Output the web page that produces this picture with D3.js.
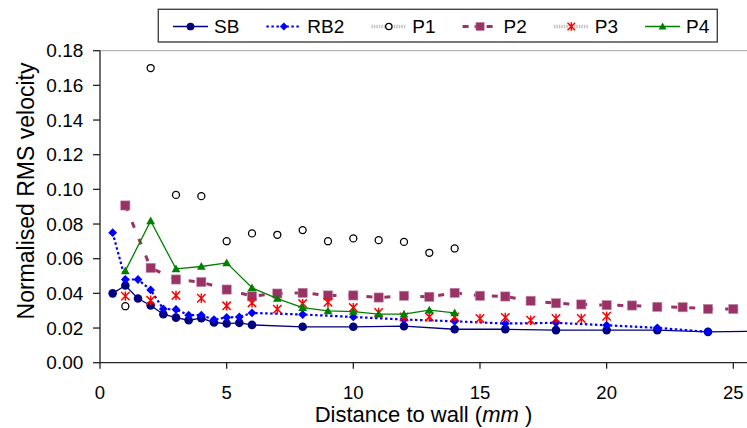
<!DOCTYPE html>
<html>
<head>
<meta charset="utf-8">
<script src="https://cdn.jsdelivr.net/npm/d3@7"></script>
<style>
  html, body { margin: 0; padding: 0; background: #fff; }
  svg { display: block; font-family: "Liberation Sans", Arial, sans-serif; }
</style>
</head>
<body>
<svg id="chart" width="747" height="428"></svg>
<script>
// Distance to wall (mm) and normalised RMS velocity for each configuration
const sbX  = [0.5, 1, 1.5, 2, 2.5, 3, 3.5, 4, 4.5, 5, 5.5, 6, 8, 10, 12, 14, 16, 18, 20, 22, 24, 26];
const sbY  = [0.040, 0.0445, 0.037, 0.033, 0.028, 0.026, 0.0245, 0.0257, 0.0232, 0.0226, 0.023, 0.0218,
              0.0207, 0.0207, 0.0211, 0.0193, 0.0193, 0.0188, 0.0188, 0.0188, 0.0178, 0.0182];

const rb2X = [0.5, 1, 1.5, 2, 2.5, 3, 3.5, 4, 4.5, 5, 5.5, 6, 8, 10, 12, 14, 16, 18, 20, 22, 24];
const rb2Y = [0.075, 0.048, 0.048, 0.042, 0.031, 0.0307, 0.0274, 0.0274, 0.0249, 0.0261, 0.0264, 0.0287,
              0.0278, 0.0264, 0.0249, 0.0239, 0.0226, 0.023, 0.0216, 0.0201, 0.0178];

const p1X  = [1, 2, 3, 4, 5, 6, 7, 8, 9, 10, 11, 12, 13, 14];
const p1Y  = [0.0326, 0.170, 0.0968, 0.0961, 0.0701, 0.0746, 0.0738, 0.0765, 0.0701, 0.0717, 0.0707,
              0.0697, 0.0634, 0.0659];

const p2X  = [1, 2, 3, 4, 5, 6, 7, 8, 9, 10, 11, 12, 13, 14, 15, 16, 17, 18, 19, 20, 21, 22, 23, 24, 25];
const p2Y  = [0.0907, 0.0547, 0.048, 0.0465, 0.0422, 0.0384, 0.0399, 0.0403, 0.0388, 0.0388, 0.0376,
              0.0386, 0.038, 0.0403, 0.0386, 0.0382, 0.0357, 0.0343, 0.0336, 0.0332, 0.033, 0.0322,
              0.032, 0.031, 0.031];

const p3X  = [1, 2, 3, 4, 5, 6, 7, 8, 9, 10, 11, 12, 13, 14, 15, 16, 17, 18, 19, 20];
const p3Y  = [0.0384, 0.036, 0.0388, 0.0372, 0.0328, 0.0345, 0.0309, 0.0341, 0.0349, 0.0318, 0.029,
              0.0264, 0.0264, 0.0264, 0.0255, 0.0261, 0.0245, 0.0255, 0.0255, 0.0268];

const p4X  = [1, 2, 3, 4, 5, 6, 7, 8, 9, 10, 11, 12, 13, 14];
const p4Y  = [0.053, 0.0818, 0.0541, 0.0555, 0.0576, 0.0432, 0.037, 0.0318, 0.0299, 0.0295, 0.028,
              0.028, 0.0303, 0.0287];

const seriesNames = ["SB", "RB2", "P1", "P2", "P3", "P4"];
const xTicks = [0, 5, 10, 15, 20, 25];
const yTicks = [0, 0.02, 0.04, 0.06, 0.08, 0.10, 0.12, 0.14, 0.16, 0.18];

// Visual styling of each series
const styles = {
  SB:  { color: "#000080", line: true,  width: 1.3, dash: null,      marker: "circle"   },
  RB2: { color: "#0000ff", line: true,  width: 2.2, dash: "2.5,2.5", marker: "diamond"  },
  P1:  { color: "#000000", line: false, width: 0,   dash: null,      marker: "ring"     },
  P2:  { color: "#993366", line: true,  width: 3,   dash: "6,12",    marker: "square"   },
  P3:  { color: "#ff0000", line: false, width: 0,   dash: null,      marker: "asterisk" },
  P4:  { color: "#008000", line: true,  width: 1.3, dash: null,      marker: "triangle" }
};

const series = [
  { name: "SB",  xs: sbX,  ys: sbY  },
  { name: "RB2", xs: rb2X, ys: rb2Y },
  { name: "P1",  xs: p1X,  ys: p1Y  },
  { name: "P2",  xs: p2X,  ys: p2Y  },
  { name: "P3",  xs: p3X,  ys: p3Y  },
  { name: "P4",  xs: p4X,  ys: p4Y  }
].map(s => ({ name: s.name, pts: s.xs.map((x, i) => ({ x, y: s.ys[i] })) }));

const svg = d3.select("#chart");
const W = 747, H = 428;
const plot = { left: 100, right: W, top: 50.7, bottom: 362.7 };

// x: 25 mm sits at 733 px; the visible axis runs on to the window edge
const x = d3.scaleLinear().domain([0, 25]).range([plot.left, 733.3]);
const y = d3.scaleLinear().domain([0, 0.18]).range([plot.bottom, plot.top]);

svg.append("defs").append("clipPath").attr("id", "plotClip")
  .append("rect")
  .attr("x", plot.left).attr("y", plot.top - 8)
  .attr("width", plot.right - plot.left).attr("height", plot.bottom - plot.top + 16);

// Top border of the plot area
svg.append("line")
  .attr("x1", plot.left).attr("x2", plot.right)
  .attr("y1", plot.top).attr("y2", plot.top)
  .attr("stroke", "#a0a0a0").attr("stroke-width", 1);

// Marker drawing
function drawMarker(g, kind, color, cx, cy, scale = 1) {
  const s = scale;
  switch (kind) {
    case "circle":
      g.append("circle").attr("cx", cx).attr("cy", cy).attr("r", 4.3 * s).attr("fill", color);
      break;
    case "diamond": {
      const r = 4.4 * s;
      g.append("path")
        .attr("d", `M${cx},${cy - r}L${cx + r},${cy}L${cx},${cy + r}L${cx - r},${cy}Z`)
        .attr("fill", color);
      break;
    }
    case "ring":
      g.append("circle").attr("cx", cx).attr("cy", cy).attr("r", 3.5 * s)
        .attr("fill", "#fff").attr("stroke", color).attr("stroke-width", 1.3);
      break;
    case "square": {
      const h = 4.6 * s;
      g.append("rect").attr("x", cx - h).attr("y", cy - h).attr("width", 2 * h).attr("height", 2 * h)
        .attr("fill", color).attr("stroke", "#c48aa6").attr("stroke-width", 0.6);
      break;
    }
    case "asterisk": {
      const r = 4.2 * s;
      g.append("path")
        .attr("d", `M${cx - r},${cy - r}L${cx + r},${cy + r}M${cx - r},${cy + r}L${cx + r},${cy - r}M${cx},${cy - r - 0.5}L${cx},${cy + r + 0.5}`)
        .attr("stroke", color).attr("stroke-width", 1.5).attr("fill", "none");
      break;
    }
    case "triangle": {
      const r = 4.4 * s;
      g.append("path")
        .attr("d", `M${cx},${cy - r}L${cx + r},${cy + r * 0.75}L${cx - r},${cy + r * 0.75}Z`)
        .attr("fill", color);
      break;
    }
  }
}

// Series: line then markers, later series on top
const lineGen = d3.line().x(d => x(d.x)).y(d => y(d.y));
const dataLayer = svg.append("g").attr("clip-path", "url(#plotClip)");

series.forEach(s => {
  const st = styles[s.name];
  const g = dataLayer.append("g").attr("class", "series-" + s.name);
  if (st.line) {
    g.append("path")
      .datum(s.pts)
      .attr("d", lineGen)
      .attr("fill", "none")
      .attr("stroke", st.color)
      .attr("stroke-width", st.width)
      .attr("stroke-dasharray", st.dash);
  }
  s.pts.forEach(p => drawMarker(g, st.marker, st.color, x(p.x), y(p.y)));
});

// Axes
const axisColor = "#222";
const xAxisG = svg.append("g").attr("transform", `translate(0,${plot.bottom})`);
xAxisG.append("line")
  .attr("x1", plot.left).attr("x2", plot.right).attr("y1", 0).attr("y2", 0)
  .attr("stroke", axisColor).attr("stroke-width", 1.3);
xAxisG.selectAll("line.tick").data(xTicks).join("line")
  .attr("class", "tick")
  .attr("x1", d => x(d)).attr("x2", d => x(d)).attr("y1", 0).attr("y2", 6)
  .attr("stroke", axisColor).attr("stroke-width", 1.3);
xAxisG.selectAll("text").data(xTicks).join("text")
  .attr("x", d => x(d)).attr("y", 36.6)
  .attr("text-anchor", "middle")
  .attr("font-size", "18.5px").attr("fill", "#000")
  .text(d => d);

const yAxisG = svg.append("g").attr("transform", `translate(${plot.left},0)`);
yAxisG.append("line")
  .attr("x1", 0).attr("x2", 0).attr("y1", plot.top).attr("y2", plot.bottom)
  .attr("stroke", axisColor).attr("stroke-width", 1.3);
yAxisG.selectAll("line.tick").data(yTicks).join("line")
  .attr("class", "tick")
  .attr("x1", -7).attr("x2", 0).attr("y1", d => y(d)).attr("y2", d => y(d))
  .attr("stroke", axisColor).attr("stroke-width", 1.3);
yAxisG.selectAll("text").data(yTicks).join("text")
  .attr("x", -16.7).attr("y", d => y(d)).attr("dy", "0.35em")
  .attr("text-anchor", "end")
  .attr("font-size", "19px").attr("fill", "#000")
  .text(d => d3.format(".2f")(d));

// Axis titles
const xTitle = svg.append("text")
  .attr("x", (plot.left + plot.right) / 2).attr("y", 422)
  .attr("text-anchor", "middle").attr("font-size", "22px").attr("fill", "#000");
xTitle.append("tspan").text("Distance to wall (");
xTitle.append("tspan").attr("font-style", "italic").text("mm");
xTitle.append("tspan").text(" )");

svg.append("text")
  .attr("transform", "translate(34,191) rotate(-90)")
  .attr("text-anchor", "middle").attr("font-size", "23px").attr("fill", "#000")
  .text("Normalised RMS velocity");

// Legend
const legend = svg.append("g");
const legendBox = { x: 158.3, y: 9.3, w: 559, h: 32.7 };
legend.append("rect")
  .attr("x", legendBox.x).attr("y", legendBox.y)
  .attr("width", legendBox.w).attr("height", legendBox.h)
  .attr("fill", "#fff").attr("stroke", "#444").attr("stroke-width", 1.4);

const legendMid = 26.5;
let cursor = 173;
seriesNames.forEach(name => {
  const st = styles[name];
  const item = legend.append("g");
  const lineLen = 35;
  const ln = item.append("line")
    .attr("x1", cursor).attr("x2", cursor + lineLen)
    .attr("y1", legendMid).attr("y2", legendMid);
  if (st.line) {
    ln.attr("stroke", st.color).attr("stroke-width", st.width)
      .attr("stroke-dasharray", name === "P2" ? "6,6" : st.dash);
  } else {
    ln.attr("stroke", "#c4c4c4").attr("stroke-width", 3.5).attr("stroke-dasharray", "1.5,1");
  }
  drawMarker(item, st.marker, st.color, cursor + lineLen / 2, legendMid, 0.9);
  const t = item.append("text")
    .attr("x", cursor + lineLen + 6).attr("y", 33.3)
    .attr("font-size", "19px").attr("fill", "#000")
    .text(name);
  cursor = cursor + lineLen + 6 + t.node().getComputedTextLength() + 27;
});
</script>
</body>
</html>
